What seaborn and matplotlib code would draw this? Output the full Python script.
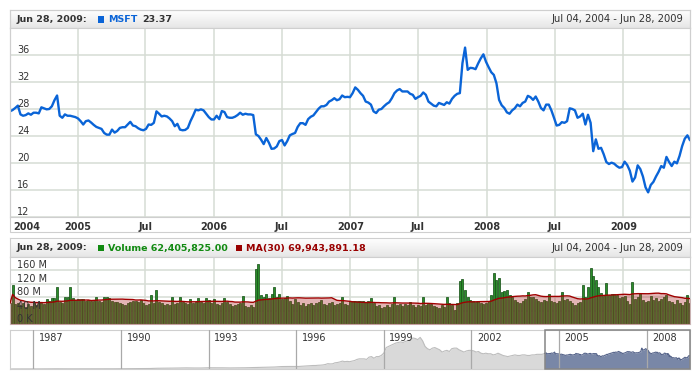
import numpy as np
import pandas as pd
import matplotlib
matplotlib.use("Agg")
import matplotlib.pyplot as plt
from matplotlib.patches import Rectangle
from matplotlib.colors import LinearSegmentedColormap
import seaborn as sns

# ---------------- data ----------------
start_date = "2004-07-04"
price = [
    27.66, 27.85, 28.15, 28.5, 27.2, 27.0, 27.1, 27.35, 27.15, 27.45,
    27.45, 27.35, 28.25, 28.1, 27.95, 28.0, 28.4, 29.3, 30.0, 27.0,
    26.7, 27.2, 27.0, 27.0, 26.9, 26.8, 26.6, 26.2, 25.7, 26.2,
    26.3, 26.0, 25.65, 25.35, 25.2, 25.05, 24.45, 24.2, 24.2, 24.95,
    24.5, 24.75, 25.2, 25.3, 25.3, 25.7, 26.1, 25.55, 25.45, 25.15,
    24.95, 24.85, 25.05, 25.7, 25.65, 25.95, 27.65, 27.3, 26.9, 27.0,
    26.9, 26.6, 26.2, 25.45, 25.8, 24.95, 24.85, 24.9, 25.2, 26.2,
    27.0, 27.9, 27.8, 27.95, 27.8, 27.3, 26.8, 26.45, 26.45, 27.0,
    26.5, 27.7, 27.55, 26.8, 26.7, 26.7, 26.85, 27.1, 27.45, 27.15,
    27.3, 27.2, 27.2, 27.1, 24.25, 24.0, 23.45, 22.8, 23.7, 23.0,
    22.1, 22.15, 22.45, 23.25, 23.4, 22.6, 23.25, 24.1, 24.3, 24.45,
    25.35, 25.9, 25.9, 25.65, 26.5, 26.85, 27.05, 27.55, 28.05, 28.4,
    28.4, 28.6, 29.1, 29.3, 29.6, 29.3, 29.45, 30.0, 29.75, 29.8,
    29.75, 30.35, 31.2, 30.85, 30.35, 29.95, 29.1, 28.95, 28.65, 27.65,
    27.4, 27.9, 28.0, 28.4, 28.75, 29.0, 29.6, 30.35, 30.75, 30.95,
    30.6, 30.6, 30.6, 30.25, 30.1, 29.5, 29.75, 29.95, 30.45, 30.1,
    29.1, 28.8, 28.5, 28.4, 28.9, 28.75, 28.6, 29.0, 28.8, 29.5,
    29.95, 30.25, 30.35, 34.8, 37.1, 33.8, 34.1, 34.05, 33.9, 34.75,
    35.5, 36.1, 35.0, 34.2, 33.45, 33.05, 31.8, 29.35, 28.55, 28.15,
    27.5, 27.3, 27.8, 28.1, 28.65, 28.4, 28.9, 29.1, 29.95, 29.75,
    29.35, 29.85, 29.1, 28.15, 27.8, 28.65, 28.65, 27.8, 26.7, 25.55,
    25.65, 26.05, 25.95, 26.2, 28.1, 28.0, 27.8, 26.7, 26.9, 27.3,
    25.7, 27.15, 25.95, 21.75, 23.5, 22.1, 22.25, 21.3, 20.15, 19.85,
    20.05, 19.9, 19.55, 19.3, 19.4, 20.2, 19.7, 18.85, 17.25, 17.85,
    19.65, 19.1, 18.0, 16.4, 15.65, 16.75, 17.2, 18.0, 18.7, 19.55,
    19.3, 20.9, 20.15, 19.55, 20.2, 19.95, 21.05, 22.5, 23.6, 24.1,
    23.37,
]
volume_m = [
    62, 115, 60, 62, 57, 63, 52, 60, 55, 64,
    58, 66, 62, 60, 74, 68, 77, 77, 110, 65,
    62, 82, 82, 109, 77, 72, 76, 75, 74, 70,
    72, 68, 70, 80, 70, 66, 80, 80, 78, 68,
    66, 65, 62, 60, 58, 64, 66, 70, 68, 65,
    72, 62, 58, 60, 87, 64, 102, 66, 62, 56,
    60, 58, 82, 60, 64, 82, 66, 62, 60, 74,
    64, 66, 77, 66, 64, 79, 72, 62, 74, 60,
    58, 62, 77, 66, 60, 55, 58, 60, 62, 85,
    55, 52, 56, 50, 164, 178, 87, 80, 89, 78,
    89, 110, 80, 89, 76, 78, 84, 70, 60, 74,
    66, 58, 62, 55, 60, 64, 58, 62, 66, 72,
    60, 58, 62, 66, 56, 60, 64, 82, 60, 58,
    68, 70, 70, 68, 70, 68, 66, 70, 77, 62,
    55, 58, 48, 52, 56, 50, 60, 82, 56, 60,
    55, 60, 58, 65, 58, 52, 56, 54, 82, 58,
    62, 60, 55, 52, 48, 56, 50, 82, 62, 58,
    43, 62, 128, 133, 102, 80, 72, 70, 66, 68,
    62, 60, 64, 68, 87, 151, 131, 138, 95, 99,
    102, 87, 80, 72, 66, 64, 70, 75, 97, 82,
    82, 75, 68, 66, 72, 70, 89, 70, 66, 62,
    68, 95, 72, 75, 70, 64, 58, 62, 66, 115,
    80, 109, 166, 144, 131, 109, 92, 85, 121, 88,
    89, 90, 88, 78, 80, 84, 70, 60, 126, 74,
    80, 94, 72, 66, 70, 85, 72, 78, 68, 74,
    80, 87, 70, 66, 60, 72, 64, 58, 66, 87,
    62.4,
]
# navigator history (quarterly 1986-1995, monthly 1996 - Jun 2004)
hist_quarterly = [
    0.1, 0.1, 0.1, 0.15,
    0.2, 0.3, 0.4, 0.3,
    0.3, 0.3, 0.3, 0.3,
    0.3, 0.4, 0.4, 0.5,
    0.6, 0.8, 0.8, 0.9,
    1.3, 1.4, 1.6, 1.8,
    2.0, 1.8, 1.8, 2.2,
    2.2, 2.1, 1.9, 2.0,
    2.2, 2.5, 2.8, 3.0,
    3.5, 4.3, 4.5, 4.4,
]
hist_monthly = [
    4.5, 4.8, 5.2, 5.5, 5.8, 6.0, 6.2, 6.2, 6.6, 6.8, 7.2, 8.0,
    9.5, 9.0, 9.2, 11, 11.5, 12.5, 14, 13, 13.5, 13, 14, 15,
    17, 18, 18, 18, 17, 21, 22, 19, 22, 22, 24, 28,
    38, 40, 42, 44, 46, 47, 48, 47, 49, 50, 52, 55,
    54, 52, 56, 50, 40, 36, 34, 37, 38, 36, 34, 30,
    32, 33, 31, 36, 37, 37, 34, 32, 30, 32, 33, 33,
    32, 30, 31, 28, 27, 28, 27, 27, 25, 26, 28, 26,
    24, 23, 22, 23, 24, 25, 24, 24, 25, 25, 24, 24,
    25, 25, 26, 26, 26, 27,
]
x_tick_dates = ["2004-07-04", "2005-01-01", "2005-07-01", "2006-01-01", "2006-07-01",
                "2007-01-01", "2007-07-01", "2008-01-01", "2008-07-01", "2009-01-01"]
x_tick_labels = ["2004", "2005", "Jul", "2006", "Jul", "2007", "Jul", "2008", "Jul", "2009"]
price_ticks = [12, 16, 20, 24, 28, 32, 36]
vol_ticks = [0, 40, 80, 120, 160]
vol_tick_labels = ["0 K", "40 M", "80 M", "120 M", "160 M"]
nav_years = [1987, 1990, 1993, 1996, 1999, 2002, 2005, 2008]
header_date = "Jun 28, 2009:"
range_text = "Jul 04, 2004 - Jun 28, 2009"
series_name = "MSFT"
series_value = "23.37"
volume_text = "Volume 62,405,825.00"
ma_text = "MA(30) 69,943,891.18"

# ---------------- frames ----------------
dates = pd.date_range(start_date, periods=len(price), freq="7D")
df = pd.DataFrame({"date": dates, "price": price, "volume": volume_m})
df["ma"] = df["volume"].rolling(30, min_periods=1).mean()

hist = pd.concat([
    pd.DataFrame({"date": pd.date_range("1986-03-31", periods=len(hist_quarterly), freq="QE"),
                  "price": hist_quarterly}),
    pd.DataFrame({"date": pd.date_range("1996-01-31", periods=len(hist_monthly), freq="ME"),
                  "price": hist_monthly}),
    df[["date", "price"]].iloc[:1],
], ignore_index=True)
sel = df[["date", "price"]]

# ---------------- style ----------------
sns.set_theme(style="white")
plt.rcParams["font.family"] = ["DejaVu Sans"]
TXT = "#333333"
GRID = "#d6dcd4"
BORDER = "#cfcfcf"
FS = 7
FSB = 6.8
FSR = 7.2

W, H = 700, 380
fig = plt.figure(figsize=(7, 3.8), dpi=100)
fig.patch.set_facecolor("white")
renderer = fig.canvas.get_renderer()


def px_axes(x0, y0, x1, y1):
    return fig.add_axes([x0 / W, 1 - y1 / H, (x1 - x0) / W, (y1 - y0) / H])


def style_spines(ax, color=BORDER):
    for s in ax.spines.values():
        s.set_color(color)
        s.set_linewidth(0.8)


hdr_cmap = LinearSegmentedColormap.from_list("hdr", ["#ffffff", "#e6e6e6"])


def header(y0, y1):
    hax = px_axes(10, y0, 690, y1)
    grad = np.linspace(0, 1, 64).reshape(-1, 1)
    hax.imshow(grad, aspect="auto", cmap=hdr_cmap, extent=[0, 1, 0, 1], origin="upper")
    hax.set_xticks([])
    hax.set_yticks([])
    style_spines(hax)
    return hax


def put(x, yc, s, **kw):
    t = fig.text(x / W, 1 - yc / H, s, va="center", ha="left", fontsize=FSB,
                 fontweight="bold", **kw)
    return t.get_window_extent(renderer).x1


def square(x, yc, color):
    fig.add_artist(Rectangle((x / W, 1 - (yc + 3) / H), 6 / W, 6 / H,
                             transform=fig.transFigure, color=color, lw=0))
    return x + 6


def put_right(x, yc, s):
    fig.text(x / W, 1 - yc / H, s, va="center", ha="right", fontsize=FSR, color=TXT)


# outer panel frame of the price panel
fig.add_artist(Rectangle((10 / W, 1 - 232 / H), 680 / W, 222 / H, transform=fig.transFigure,
                         fill=False, ec=BORDER, lw=0.8))

# ---------------- price header ----------------
header(10, 28)
yc = 19.5
x = put(17, yc, header_date, color=TXT)
x = square(x + 10, yc, "#0a64d7")
x = put(x + 5, yc, series_name, color="#0a64d7")
x = put(x + 4, yc, series_value, color=TXT)
put_right(683, yc, range_text)

# ---------------- price chart ----------------
ax = px_axes(10, 28, 690, 217)
sns.lineplot(data=df, x="date", y="price", ax=ax, color="#0a64d7", linewidth=1.7)
ax.set_xlim(dates[0], dates[-1])
ax.set_ylim(12, 40)
tick_dt = pd.to_datetime(x_tick_dates)
ax.set_xticks(tick_dt)
ax.set_yticks(price_ticks)
ax.tick_params(length=0, labelbottom=False, labelleft=False)
ax.set_xlabel("")
ax.set_ylabel("")
ax.grid(True, color=GRID, lw=1.1)
ax.set_axisbelow(True)
style_spines(ax)
for v in price_ticks:
    ax.annotate(str(v), xy=(0, v), xycoords=("axes fraction", "data"),
                xytext=(5, 1.6), textcoords="offset points", ha="left", va="baseline",
                fontsize=FS, color=TXT)
for i, (d, lbl) in enumerate(zip(tick_dt, x_tick_labels)):
    ha = "left" if i == 0 else "center"
    dx = 2.5 if i == 0 else 0
    ax.annotate(lbl, xy=(d, 0), xycoords=("data", "axes fraction"),
                xytext=(dx, -7.5), textcoords="offset points", ha=ha, va="center",
                fontsize=7, fontweight="bold", color=TXT)

# ---------------- volume header ----------------
header(238, 256.7)
yc = 248
x = put(17, yc, header_date, color=TXT)
x = square(x + 10, yc, "#118a11")
x = put(x + 4, yc, volume_text, color="#118a11")
x = square(x + 9, yc, "#990000")
x = put(x + 4, yc, ma_text, color="#990000")
put_right(683, yc, range_text)

# ---------------- volume chart ----------------
vx = px_axes(10, 256.7, 690, 324.3)
vx.bar(df["date"], df["volume"], width=5.4, color="#2a8c2a", edgecolor="#1a541a",
       linewidth=0.55, zorder=2)
vx.fill_between(df["date"], 0, df["ma"], color="#b03030", alpha=0.36, lw=0, zorder=3)
sns.lineplot(data=df, x="date", y="ma", ax=vx, color="#a00000", linewidth=1.0, zorder=4)
vx.set_xlim(dates[0], dates[-1])
vx.set_ylim(0, 200)
vx.set_xticks(tick_dt)
vx.set_yticks(vol_ticks)
vx.tick_params(length=0, labelbottom=False, labelleft=False)
vx.set_xlabel("")
vx.set_ylabel("")
vx.grid(True, color=GRID, lw=1.1)
vx.set_axisbelow(True)
style_spines(vx)
for v, lbl in zip(vol_ticks, vol_tick_labels):
    vx.annotate(lbl, xy=(0, v), xycoords=("axes fraction", "data"),
                xytext=(5, 1.6), textcoords="offset points", ha="left", va="baseline",
                fontsize=FS, color=TXT, zorder=6)

# ---------------- navigator ----------------
nx = px_axes(10, 329.5, 690, 369)
nx.fill_between(hist["date"], 0, hist["price"], color="#d9d9d9", lw=0, zorder=1)
sns.lineplot(data=hist, x="date", y="price", ax=nx, color="#bdbdbd", linewidth=0.8, zorder=2)
nx.fill_between(sel["date"], 0, sel["price"], color="#7987a7", lw=0, zorder=1)
sns.lineplot(data=sel, x="date", y="price", ax=nx, color="#56648a", linewidth=0.8, zorder=2)
nx.set_xlim(pd.Timestamp("1986-03-13"), dates[-1])
nx.set_ylim(0, 70)
year_dt = pd.to_datetime([f"{y}-01-01" for y in nav_years])
nx.set_xticks(year_dt)
nx.set_yticks([])
nx.tick_params(length=0, labelbottom=False, labelleft=False)
nx.set_xlabel("")
nx.set_ylabel("")
nx.grid(True, axis="x", color="#a9a9a9", lw=0.9, zorder=3)
nx.set_axisbelow(False)
style_spines(nx)
for d, y in zip(year_dt, nav_years):
    nx.annotate(str(y), xy=(d, 1), xycoords=("data", "axes fraction"),
                xytext=(4, -2.2), textcoords="offset points", ha="left", va="top",
                fontsize=FS, color=TXT)
nx.add_patch(Rectangle((dates[0], 0), dates[-1] - dates[0], 1,
                       transform=nx.get_xaxis_transform(), fill=False,
                       ec="#858585", lw=1.1, zorder=5, clip_on=False))

fig.savefig("out.png", dpi=100, facecolor="white")
